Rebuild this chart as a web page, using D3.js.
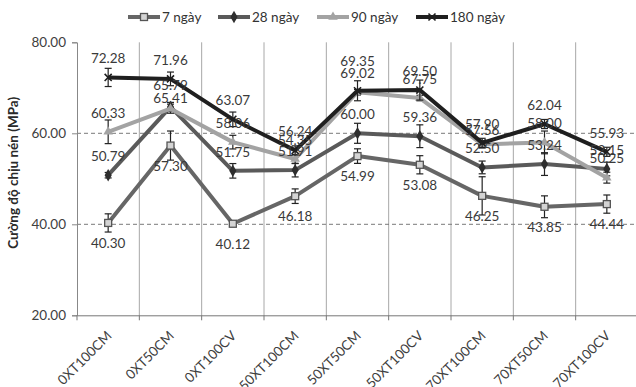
<!DOCTYPE html>
<html>
<head>
<meta charset="utf-8">
<script src="https://cdn.jsdelivr.net/npm/d3@7"></script>
<style>
  html, body { margin: 0; padding: 0; background: #fff; }
  svg { display: block; font-family: Lato, "Open Sans", sans-serif; }
</style>
</head>
<body>
<svg id="chart" width="636" height="387"></svg>
<script>
// Mix designations along the x axis
const categories = ["0XT100CM", "0XT50CM", "0XT100CV", "50XT100CM", "50XT50CM",
                    "50XT100CV", "70XT100CM", "70XT50CM", "70XT100CV"];

// Compressive strength (MPa) by curing age
const seriesNames = ["7 ngày", "28 ngày", "90 ngày", "180 ngày"];
const v7   = [40.30, 57.30, 40.12, 46.18, 54.99, 53.08, 46.25, 43.85, 44.44];
const v28  = [50.79, 65.79, 51.75, 51.91, 60.00, 59.36, 52.50, 53.24, 52.15];
const v90  = [60.33, 65.41, 58.06, 54.35, 69.02, 67.75, 57.56, 58.00, 50.25];
const v180 = [72.28, 71.96, 63.07, 56.24, 69.35, 69.50, 57.90, 62.04, 55.93];

// Standard deviation (error bars)
const e7   = [2.0, 3.2, 0.5, 1.6, 1.6, 2.0, 4.2, 2.4, 2.0];
const e28  = [0.6, 1.0, 1.6, 1.5, 2.2, 2.5, 1.4, 2.5, 1.5];
const e90  = [2.6, 1.0, 1.5, 1.0, 0.6, 0.6, 0.8, 2.5, 1.2];
const e180 = [2.0, 1.5, 1.6, 1.0, 2.2, 2.2, 1.0, 1.0, 1.0];

const yTicks = [20, 40, 60, 80];
const yTitle = "Cường độ chịu nén (MPa)";

const series = [
  { name: seriesNames[0], values: v7,   errors: e7,   color: "#666666", marker: "square",   mFill: "#d4d4d4", mStroke: "#555", below: true },
  { name: seriesNames[1], values: v28,  errors: e28,  color: "#5a5a5a", marker: "diamond",  mFill: "#2e2e2e", mStroke: "#2e2e2e", below: false },
  { name: seriesNames[2], values: v90,  errors: e90,  color: "#a3a3a3", marker: "triangle", mFill: "#a3a3a3", mStroke: "#a3a3a3", below: false },
  { name: seriesNames[3], values: v180, errors: e180, color: "#1f1f1f", marker: "cross",    mFill: "#1f1f1f", mStroke: "#1f1f1f", below: false }
];

const svg = d3.select("#chart");
const plotLeft = 77, plotRight = 638, plotTop = 42.3, plotBottom = 315.3;

const x = d3.scaleBand().domain(categories).range([plotLeft, plotRight]);
const y = d3.scaleLinear().domain([20, 80]).range([plotBottom, plotTop]);
const cx = c => x(c) + x.bandwidth() / 2;

// Vertical category separators
svg.append("g").selectAll("line")
  .data(categories.slice(1).map(c => x(c)).concat([plotRight - 1]))
  .join("line")
  .attr("x1", d => d).attr("x2", d => d)
  .attr("y1", plotTop).attr("y2", plotBottom)
  .attr("stroke", "#a8a8a8").attr("stroke-width", 1);

// Dashed horizontal gridlines
svg.append("g").selectAll("line")
  .data(yTicks.filter(t => t > 20 && t < 80))
  .join("line")
  .attr("x1", plotLeft).attr("x2", plotRight)
  .attr("y1", d => y(d)).attr("y2", d => y(d))
  .attr("stroke", "#7a7a7a").attr("stroke-width", 1)
  .attr("stroke-dasharray", "4,3");

// Y axis
const yAxis = svg.append("g")
  .attr("transform", `translate(${plotLeft},0)`)
  .call(d3.axisLeft(y).tickValues(yTicks).tickFormat(d3.format(".2f")).tickSize(5).tickPadding(6));
yAxis.select(".domain").attr("stroke", "#888");
yAxis.selectAll(".tick line").attr("stroke", "#888");
yAxis.selectAll("text").attr("font-size", 13.5).attr("fill", "#404040")
  .attr("font-family", "Lato, sans-serif");

// X axis line with ticks at category boundaries
const xAxis = svg.append("g")
  .attr("transform", `translate(0,${plotBottom})`)
  .call(d3.axisBottom(x).tickSize(0).tickPadding(0));
xAxis.select(".domain").attr("stroke", "#777");
xAxis.selectAll(".tick text")
  .attr("font-size", 13.5).attr("fill", "#404040")
  .attr("font-family", "Lato, sans-serif")
  .attr("text-anchor", "end")
  .attr("dy", "0.35em")
  .attr("transform", "translate(1,18) rotate(-45)");
svg.append("g").selectAll("line")
  .data(categories.map(c => x(c)).concat([plotRight - 1]))
  .join("line")
  .attr("x1", d => d).attr("x2", d => d)
  .attr("y1", plotBottom).attr("y2", plotBottom + 5)
  .attr("stroke", "#777");

// Y axis title
svg.append("text")
  .attr("transform", `translate(18,${(plotTop + plotBottom) / 2 - 6}) rotate(-90)`)
  .attr("text-anchor", "middle")
  .attr("font-size", 13.5).attr("font-weight", "bold")
  .attr("fill", "#2a2a2a")
  .text(yTitle);

const line = d3.line().x((d, i) => cx(categories[i])).y(d => y(d));

function drawMarker(g, type, px, py, fill, stroke, s) {
  if (type === "square") {
    g.append("rect").attr("x", px - s / 2).attr("y", py - s / 2)
      .attr("width", s).attr("height", s)
      .attr("fill", fill).attr("stroke", stroke).attr("stroke-width", 1.3);
  } else if (type === "diamond") {
    g.append("path").attr("d", d3.symbol(d3.symbolDiamond, s * s * 0.9)())
      .attr("transform", `translate(${px},${py})`).attr("fill", fill);
  } else if (type === "triangle") {
    g.append("path").attr("d", d3.symbol(d3.symbolTriangle, s * s * 0.8)())
      .attr("transform", `translate(${px},${py})`).attr("fill", fill);
  } else {
    g.append("path").attr("d", d3.symbol(d3.symbolTimes, s * s * 0.7)())
      .attr("transform", `translate(${px},${py})`)
      .attr("fill", "none").attr("stroke", stroke).attr("stroke-width", 1.6);
  }
}

const plot = svg.append("g");
series.forEach(s => {
  const g = plot.append("g");
  // error bars
  s.values.forEach((v, i) => {
    const px = cx(categories[i]);
    const y0 = y(v - s.errors[i]), y1 = y(v + s.errors[i]);
    g.append("line").attr("x1", px).attr("x2", px).attr("y1", y0).attr("y2", y1)
      .attr("stroke", "#222").attr("stroke-width", 1.2);
    [y0, y1].forEach(yy => g.append("line")
      .attr("x1", px - 3.5).attr("x2", px + 3.5).attr("y1", yy).attr("y2", yy)
      .attr("stroke", "#222").attr("stroke-width", 1.2));
  });
  g.append("path").datum(s.values)
    .attr("d", line)
    .attr("fill", "none").attr("stroke", s.color)
    .attr("stroke-width", 4).attr("stroke-linejoin", "round");
  s.values.forEach((v, i) => drawMarker(g, s.marker, cx(categories[i]), y(v), s.mFill, s.mStroke, 7));
});

// Value labels: 7-day below the marker, the rest above; a few are shifted
// vertically where neighbouring labels would sit on top of each other.
const labelShift = {
  "28 ngày|0XT50CM": -3,
  "90 ngày|0XT50CM": 9,
  "180 ngày|50XT50CM": -10,
  "90 ngày|70XT100CM": 5
};
const labels = svg.append("g");
series.forEach(s => {
  labels.selectAll(null).data(s.values).join("text")
    .attr("x", (d, i) => cx(categories[i]))
    .attr("y", (d, i) => y(d) + (s.below ? 20.5 : -19) + (labelShift[s.name + "|" + categories[i]] || 0))
    .attr("dy", "0.35em")
    .attr("text-anchor", "middle")
    .attr("font-size", 13.5).attr("fill", "#3a3a3a")
    .text(d => d3.format(".2f")(d));
});

// Legend
const legendX = [128, 218, 317, 416];
const legend = svg.append("g");
series.forEach((s, i) => {
  const lx = legendX[i], ly = 17;
  const g = legend.append("g");
  g.append("line").attr("x1", lx).attr("x2", lx + 32).attr("y1", ly).attr("y2", ly)
    .attr("stroke", s.color).attr("stroke-width", 4);
  drawMarker(g, s.marker, lx + 16, ly, s.mFill, s.mStroke, 7);
  g.append("text").attr("x", lx + 34).attr("y", ly).attr("dy", "0.35em")
    .attr("font-size", 13.5).attr("fill", "#333").text(s.name);
});
</script>
</body>
</html>
